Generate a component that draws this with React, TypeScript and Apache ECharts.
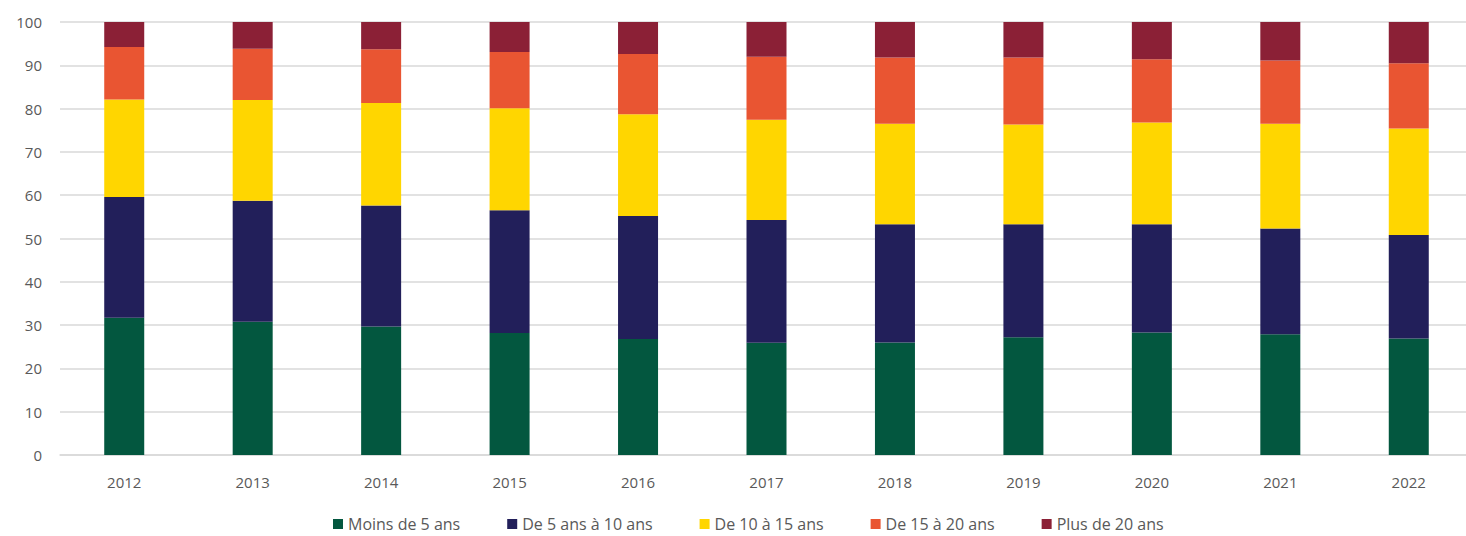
import React, { useEffect, useRef } from "react";
import * as echarts from "echarts";

const categories = ["2012", "2013", "2014", "2015", "2016", "2017", "2018", "2019", "2020", "2021", "2022"];
const seriesNames = ["Moins de 5 ans", "De 5 ans à 10 ans", "De 10 à 15 ans", "De 15 à 20 ans", "Plus de 20 ans"];
const moins5 = [31.7, 30.8, 29.7, 28.2, 26.8, 25.9, 26.0, 27.2, 28.3, 27.9, 26.9];
const de5a10 = [27.9, 27.9, 27.9, 28.3, 28.4, 28.4, 27.3, 26.1, 25.0, 24.4, 23.9];
const de10a15 = [22.5, 23.3, 23.7, 23.6, 23.5, 23.1, 23.2, 23.0, 23.5, 24.2, 24.6];
const de15a20 = [12.1, 11.8, 12.4, 13.0, 13.9, 14.6, 15.3, 15.5, 14.6, 14.6, 15.1];
const plus20 = [5.8, 6.2, 6.3, 6.9, 7.4, 8.0, 8.2, 8.2, 8.6, 8.9, 9.5];
const colors = ["#03573F", "#221F5A", "#FFD600", "#E95532", "#8B2036"];

export default function App() {
  const ref = useRef<HTMLDivElement>(null);
  useEffect(() => {
    if (!ref.current) return;
    const chart = echarts.init(ref.current, null, { renderer: "svg" });
    const data = [moins5, de5a10, de10a15, de15a20, plus20];
    chart.setOption({
      animation: false,
      color: colors,
      grid: { left: 60, right: -7, top: 22, bottom: 81, outerBoundsMode: "none" },
      legend: {
        bottom: 4,
        left: 333,
        padding: 0,
        itemWidth: 10,
        itemHeight: 10,
        itemGap: 47,
        icon: "rect",
        textStyle: { color: "#595959", fontSize: 16, fontFamily: "Open Sans, sans-serif" },
        data: seriesNames,
      },
      xAxis: {
        type: "category",
        data: categories,
        axisLine: { lineStyle: { color: "#D9D9D9", width: 1.5 } },
        axisTick: { show: false },
        axisLabel: { color: "#595959", fontSize: 15, margin: 19, fontFamily: "Open Sans, sans-serif" },
      },
      yAxis: {
        type: "value",
        min: 0,
        max: 100,
        interval: 10,
        axisLine: { show: false },
        axisTick: { show: false },
        splitLine: { lineStyle: { color: "#D9D9D9", width: 1.5 } },
        axisLabel: { color: "#595959", fontSize: 15, margin: 18, fontFamily: "Open Sans, sans-serif" },
      },
      series: seriesNames.map((name, i) => ({
        name,
        type: "bar",
        stack: "total",
        barWidth: 40,
        data: data[i],
      })),
    });
    return () => chart.dispose();
  }, []);
  return <div ref={ref} style={{ position: "absolute", left: 0, top: 0, width: 1466, height: 536 }} />;
}
